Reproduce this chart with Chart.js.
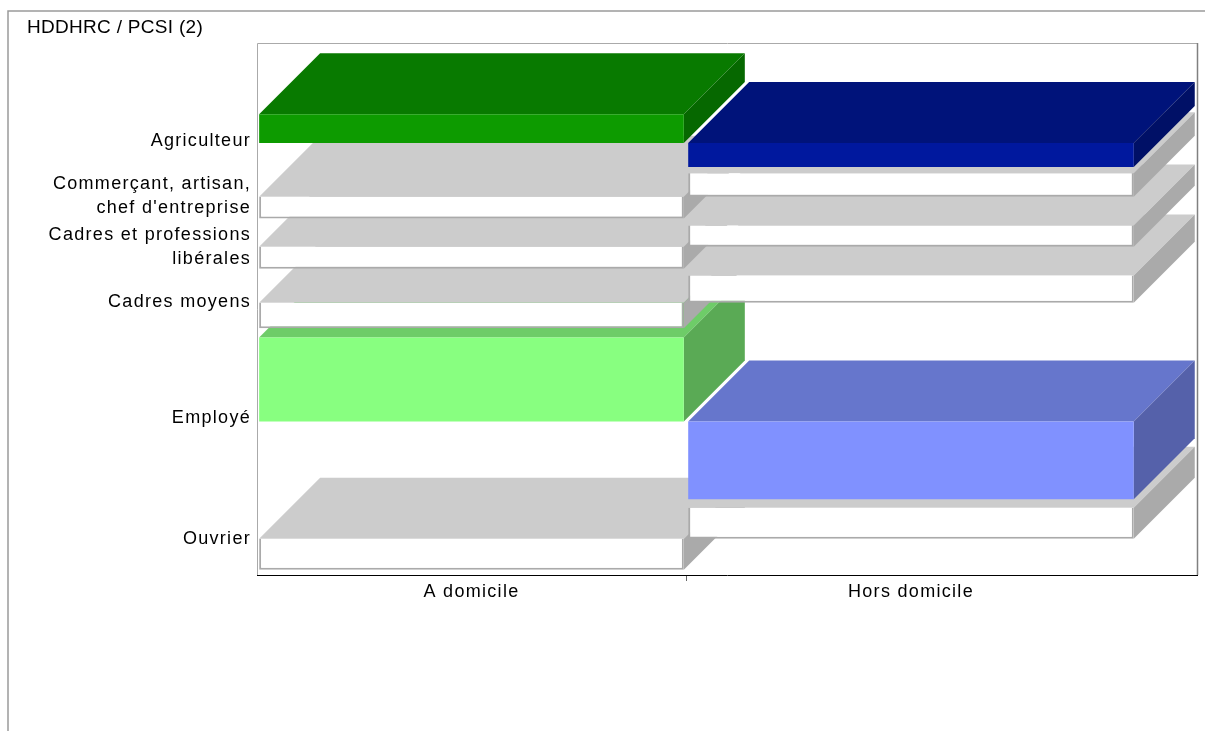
<!DOCTYPE html>
<html>
<head>
<meta charset="utf-8">
<script src="https://cdn.jsdelivr.net/npm/chart.js@4/dist/chart.umd.min.js"></script>
<style>
html, body { margin: 0; padding: 0; background: #ffffff; }
canvas { display: block; }
</style>
</head>
<body>
<canvas id="c" width="1205" height="731"></canvas>
<script>
// ---------------- data ----------------
const chartTitle = 'HDDHRC / PCSI (2)';
const columns = ['A domicile', 'Hors domicile'];
const columnShares = [48.8, 51.2];           // width share of each column (x units, 0-100)
const rows = [
  'Agriculteur',
  ['Commerçant, artisan,', "chef d'entreprise"],
  ['Cadres et professions', 'libérales'],
  'Cadres moyens',
  'Employé',
  'Ouvrier'
];
// floating ranges [start, end] on a 0-100 vertical scale
const aDomicile    = [[91.7, 97.8], [75.7, 80.3], [65.0, 69.7], [52.4, 57.8], [32.6, 50.4], [1.1, 7.7]];
const horsDomicile = [[86.6, 91.7], [80.3, 85.3], [69.7, 74.2], [57.8, 63.6], [16.1, 32.6], [7.7, 14.3]];
// 0 = neutral, 1 = strong highlight, 2 = light highlight
const highlight = [1, 0, 0, 0, 2, 0];

// ---------------- styles ----------------
const DEPTH = 61;
const FONT = "'Liberation Sans', Arial, sans-serif";
const SPACING = '1.3px';
const grey = { front: '#ffffff', top: '#cccccc', side: '#aaaaaa' };
const palette = [
  [grey, { front: '#0d9b00', top: '#087a00', side: '#066800' }, { front: '#88ff80', top: '#6ecc68', side: '#5aaa55' }],
  [grey, { front: '#00189e', top: '#00137a', side: '#001066' }, { front: '#8091ff', top: '#6676cc', side: '#5561aa' }]
];

const series = [aDomicile, horsDomicile];
const centers = [];
let acc = 0;
columnShares.forEach(s => { centers.push(acc + s / 2); acc += s; });
const centerGap = centers[1] - centers[0];
const rowCenters = rows.map((_, r) => {
  const lo = Math.min(aDomicile[r][0], horsDomicile[r][0]);
  const hi = Math.max(aDomicile[r][1], horsDomicile[r][1]);
  return (lo + hi) / 2;
});

const datasets = series.map((vals, c) => ({
  label: columns[c],
  data: vals.map(v => ({ x: centers[c], y: v })),
  backgroundColor: highlight.map(h => palette[c][h].front),
  topColor: highlight.map(h => palette[c][h].top),
  sideColor: highlight.map(h => palette[c][h].side),
  borderColor: '#aaaaaa',
  borderWidth: highlight.map(h => (h ? 0 : 2)),
  borderSkipped: 'top',
  grouped: false,
  categoryPercentage: 1,
  barPercentage: 0.99 * columnShares[c] / centerGap,
  order: c === 0 ? 2 : 1
}));

function poly(ctx, pts, color) {
  ctx.fillStyle = color;
  ctx.beginPath();
  ctx.moveTo(pts[0][0], pts[0][1]);
  for (let i = 1; i < pts.length; i++) ctx.lineTo(pts[i][0], pts[i][1]);
  ctx.closePath();
  ctx.fill();
}

const box3d = {
  id: 'box3d',
  beforeUpdate(chart) { chart.ctx.letterSpacing = SPACING; },
  beforeLayout(chart) { chart.ctx.letterSpacing = SPACING; },
  beforeDraw(chart) {
    const ctx = chart.ctx;
    ctx.letterSpacing = SPACING;
    ctx.save();
    ctx.fillStyle = '#ffffff';
    ctx.fillRect(0, 0, chart.width, chart.height);
    ctx.strokeStyle = '#9a9a9a';
    ctx.lineWidth = 1.5;
    ctx.beginPath();
    ctx.moveTo(8, chart.height);
    ctx.lineTo(8, 11);
    ctx.lineTo(chart.width, 11);
    ctx.stroke();
    // title
    ctx.letterSpacing = '0.3px';
    ctx.fillStyle = '#000000';
    ctx.font = '19px ' + FONT;
    ctx.textAlign = 'left';
    ctx.textBaseline = 'alphabetic';
    ctx.fillText(chartTitle, 27, 33);
    ctx.restore();
  },
  beforeDatasetsDraw(chart) {
    const { ctx, chartArea: a } = chart;
    ctx.save();
    ctx.lineWidth = 1;
    ctx.strokeStyle = '#aaaaaa';
    ctx.beginPath();
    ctx.moveTo(a.left + 0.5, a.bottom);
    ctx.lineTo(a.left + 0.5, a.top - DEPTH + 0.5);
    ctx.lineTo(a.right + DEPTH + 0.5, a.top - DEPTH + 0.5);
    ctx.stroke();
    ctx.strokeStyle = '#808080';
    ctx.lineWidth = 1.5;
    ctx.beginPath();
    ctx.moveTo(a.right + DEPTH + 0.5, a.top - DEPTH);
    ctx.lineTo(a.right + DEPTH + 0.5, a.bottom);
    ctx.stroke();
    ctx.strokeStyle = '#000000';
    ctx.lineWidth = 1;
    ctx.beginPath();
    ctx.moveTo(a.left, a.bottom + 0.5);
    ctx.lineTo(a.right + DEPTH + 1, a.bottom + 0.5);
    ctx.stroke();
    const bx = Math.round(chart.scales.x.getPixelForValue(columnShares[0]));
    ctx.strokeStyle = '#666666';
    ctx.beginPath();
    ctx.moveTo(bx + 0.5, a.bottom + 1);
    ctx.lineTo(bx + 0.5, a.bottom + 6);
    ctx.stroke();
    ctx.restore();
  },
  beforeDatasetDraw(chart, args) {
    const ctx = chart.ctx;
    const ds = chart.data.datasets[args.index];
    const items = args.meta.data.map((el, i) => ({ el, i }))
      .sort((p, q) => Math.max(q.el.y, q.el.base) - Math.max(p.el.y, p.el.base));
    ctx.save();
    items.forEach(({ el, i }) => {
      const L = el.x - el.width / 2, R = el.x + el.width / 2;
      const T = Math.min(el.y, el.base), B = Math.max(el.y, el.base);
      const D = DEPTH;
      poly(ctx, [[L, T], [R, T], [R + D, T - D], [L + D, T - D]], ds.topColor[i]);
      poly(ctx, [[R, T], [R + D, T - D], [R + D, B - D], [R, B]], ds.sideColor[i]);
    });
    ctx.restore();
  }
};

Chart.defaults.font.family = FONT;
Chart.defaults.color = '#000000';

new Chart(document.getElementById('c'), {
  type: 'bar',
  data: { datasets },
  plugins: [box3d],
  options: {
    responsive: false,
    animation: false,
    layout: { padding: { left: 27, top: 104, right: 69, bottom: 0 } },
    plugins: {
      legend: { display: false },
      tooltip: { enabled: false },
      title: { display: false }
    },
    scales: {
      x: {
        type: 'linear',
        min: 0,
        max: 100,
        offset: false,
        grid: { display: false, drawTicks: false },
        border: { display: false },
        afterBuildTicks: axis => { axis.ticks = centers.map(v => ({ value: v })); },
        afterFit: axis => { axis.height = 156; },
        ticks: {
          autoSkip: false,
          maxRotation: 0,
          padding: 6,
          color: '#000000',
          font: { family: FONT, size: 18 },
          callback: (v, i) => columns[i]
        }
      },
      y: {
        type: 'linear',
        min: 0,
        max: 100,
        grid: { display: false, drawTicks: false },
        border: { display: false },
        afterBuildTicks: axis => { axis.ticks = rowCenters.map(v => ({ value: v })); },
        afterFit: axis => { axis.width = 230; },
        ticks: {
          autoSkip: false,
          padding: 6,
          color: '#000000',
          font: { family: FONT, size: 18, lineHeight: 1.35 },
          callback: (v, i) => rows[i]
        }
      }
    }
  }
});
</script>
</body>
</html>
